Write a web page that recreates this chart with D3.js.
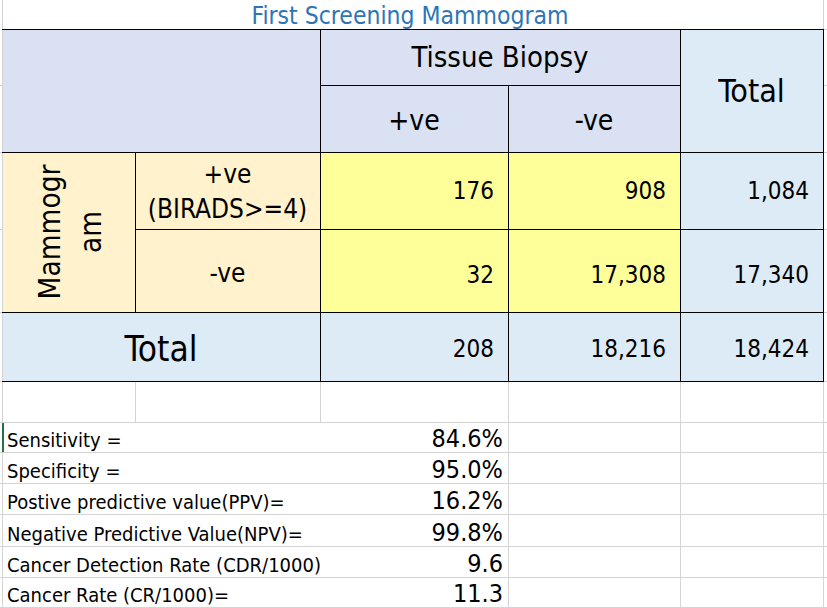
<!DOCTYPE html>
<html>
<head>
<meta charset="utf-8">
<script src="https://cdn.jsdelivr.net/npm/d3@7"></script>
<style>
  html, body { margin: 0; padding: 0; background: #ffffff; }
  svg { display: block; }
  text { font-family: "DejaVu Sans Condensed", "DejaVu Sans", sans-serif; font-stretch: condensed; }
</style>
</head>
<body>
<svg id="chart" width="827" height="608"></svg>
<script>
// ---------- data ----------
const title = "First Screening Mammogram";
const colGroupLabel = "Tissue Biopsy";
const colLabels = ["+ve", "-ve"];
const rowGroupLabel = ["Mammogr", "am"];
const rowLabels = [["+ve", "(BIRADS>=4)"], ["-ve"]];
const totalLabel = "Total";
const cellValues = [[176, 908], [32, 17308]];
const rowTotals = [1084, 17340];
const colTotals = [208, 18216];
const grandTotal = 18424;
const metricLabels = ["Sensitivity =", "Specificity =", "Postive predictive value(PPV)=",
  "Negative Predictive Value(NPV)=", "Cancer Detection Rate (CDR/1000)", "Cancer Rate (CR/1000)="];
const metricValues = ["84.6%", "95.0%", "16.2%", "99.8%", "9.6", "11.3"];

// ---------- layout ----------
const svg = d3.select("#chart");
const W = 827;
const colKeys = ["A", "B", "C", "D", "E", "F"];
const colEdge = d3.scaleOrdinal().domain(colKeys).range([2, 135, 320, 508, 680, 823]);
const rowKeys = ["r0", "r1", "r2", "r3", "r4", "r5", "r6", "m0", "m1", "m2", "m3", "m4", "m5", "end"];
const rowEdge = d3.scaleOrdinal().domain(rowKeys)
  .range([0, 29, 85, 152, 229, 312, 381, 422, 452, 483, 514, 545.5, 576.7, 607]);

const C = {
  header: "#D9E1F2", total: "#DDEBF7", orange: "#FFF2CC", yellow: "#FFFF99",
  grid: "#D4D4D4", border: "#000000", title: "#2E75B6", text: "#000000"
};
const fmt = d3.format(",");

function rect(x0, x1, y0, y1, fill) {
  svg.append("rect").attr("x", x0).attr("y", y0).attr("width", x1 - x0).attr("height", y1 - y0).attr("fill", fill);
}
function line(x0, y0, x1, y1, color, w) {
  svg.append("line").attr("x1", x0).attr("y1", y0).attr("x2", x1).attr("y2", y1)
    .attr("stroke", color).attr("stroke-width", w || 1).attr("shape-rendering", "crispEdges");
}
function text(x, y, s, size, anchor, color) {
  return svg.append("text").attr("x", x).attr("y", y).attr("font-size", size)
    .attr("text-anchor", anchor || "middle").attr("fill", color || C.text).text(s);
}
const X = k => colEdge(k), Y = k => rowEdge(k);

// ---------- gray gridlines (spreadsheet) ----------
line(2.5, 0, 2.5, 608, C.grid);
line(823.5, 0, 823.5, 608, C.grid);
["r2", "r3", "r4", "r5"].forEach(k => { line(0, Y(k) + 0.5, 2, Y(k) + 0.5, C.grid); line(824, Y(k) + 0.5, W, Y(k) + 0.5, C.grid); });
line(824, Y("r1") + 0.5, W, Y("r1") + 0.5, C.grid);
["r6", "m0", "m1", "m2", "m3", "m4", "m5", "end"].forEach(k => line(0, Y(k) + 0.5, W, Y(k) + 0.5, C.grid));
line(X("B") + 0.5, Y("r6"), X("B") + 0.5, Y("m0"), C.grid);
line(X("C") + 0.5, Y("r6"), X("C") + 0.5, Y("m0"), C.grid);
line(X("D") + 0.5, Y("r6"), X("D") + 0.5, 608, C.grid);
line(X("E") + 0.5, Y("r6"), X("E") + 0.5, 608, C.grid);

// ---------- fills ----------
rect(X("A") + 1, X("E"), Y("r1"), Y("r3"), C.header);
rect(X("E"), X("F"), Y("r1"), Y("r6"), C.total);
rect(X("A") + 1, X("E"), Y("r5"), Y("r6"), C.total);
rect(X("A") + 1, X("C"), Y("r3"), Y("r5"), C.orange);
rect(X("C"), X("E"), Y("r3"), Y("r5"), C.yellow);

// ---------- black borders ----------
line(X("A"), Y("r1") + 0.5, X("F") + 1, Y("r1") + 0.5, C.border);
line(X("A"), Y("r3") + 0.5, X("F") + 1, Y("r3") + 0.5, C.border);
line(X("A"), Y("r5") + 0.5, X("F") + 1, Y("r5") + 0.5, C.border);
line(X("A"), Y("r6") + 0.5, X("F") + 1, Y("r6") + 0.5, C.border);
line(X("C"), Y("r2") + 0.5, X("E"), Y("r2") + 0.5, C.border);
line(X("B"), Y("r4") + 0.5, X("F") + 1, Y("r4") + 0.5, C.border);
line(X("B") + 0.5, Y("r3"), X("B") + 0.5, Y("r5"), C.border);
line(X("C") + 0.5, Y("r1"), X("C") + 0.5, Y("r6"), C.border);
line(X("D") + 0.5, Y("r2"), X("D") + 0.5, Y("r6"), C.border);
line(X("E") + 0.5, Y("r1"), X("E") + 0.5, Y("r6"), C.border);
line(X("F") + 0.5, Y("r1"), X("F") + 0.5, Y("r6") + 1, C.border);

// selected cell marker
svg.append("rect").attr("x", 2).attr("y", Y("m0") + 1).attr("width", 2).attr("height", Y("m1") - Y("m0") - 1).attr("fill", "#217346");

// ---------- texts ----------
text(410, 24, title, 24.5, "middle", C.title);
text((X("C") + X("E")) / 2, 67, colGroupLabel, 29);
colLabels.forEach((s, i) => {
  const x0 = X(colKeys[2 + i]), x1 = X(colKeys[3 + i]);
  text((x0 + x1) / 2, 130, s, 28);
});
text((X("E") + X("F")) / 2, 102, totalLabel, 32);

// rotated row group label
const cy = (Y("r3") + Y("r5")) / 2;
rowGroupLabel.forEach((s, i) => {
  svg.append("text").attr("transform", `translate(${[60, 101][i]},${cy}) rotate(-90)`)
    .attr("font-size", 29.5).attr("text-anchor", "middle").attr("fill", C.text).text(s);
});

// row labels
const rowBase = [[183, 218], [282]];
rowLabels.forEach((lines, i) => {
  lines.forEach((s, j) => text((X("B") + X("C")) / 2, rowBase[i][j], s, 26));
});
text((X("A") + X("C")) / 2, 361, totalLabel, 35);

// values
const dataBase = [199, 283];
cellValues.forEach((row, i) => {
  row.forEach((v, j) => text(X(colKeys[3 + j]) - 14, dataBase[i], fmt(v), 24, "end"));
  text(X("F") - 14, dataBase[i], fmt(rowTotals[i]), 24, "end");
});
colTotals.forEach((v, j) => text(X(colKeys[3 + j]) - 14, 357, fmt(v), 24, "end"));
text(X("F") - 14, 357, fmt(grandTotal), 24, "end");

// metrics
const mKeys = ["m0", "m1", "m2", "m3", "m4", "m5", "end"];
metricLabels.forEach((s, i) => {
  const yb = Y(mKeys[i + 1]) - 5;
  text(7, yb, s, 20, "start");
  text(X("D") - 5, yb, metricValues[i], 25, "end");
});
</script>
</body>
</html>
